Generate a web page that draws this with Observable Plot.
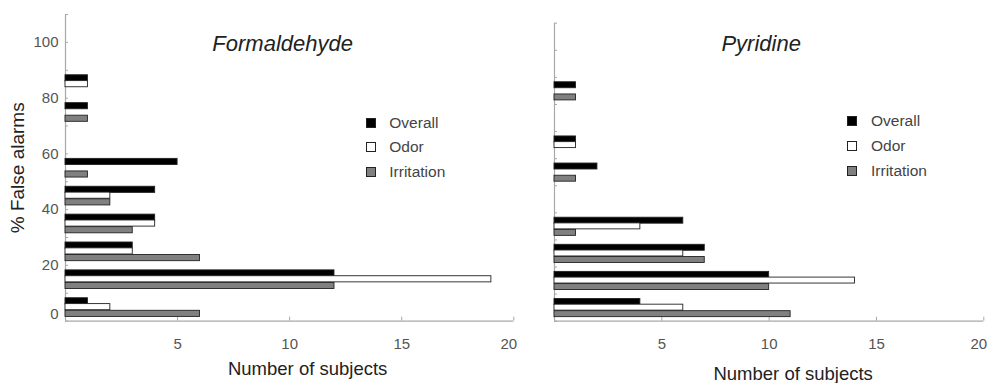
<!DOCTYPE html>
<html><head><meta charset="utf-8">
<script src="https://cdn.jsdelivr.net/npm/d3@7"></script>
<script src="https://cdn.jsdelivr.net/npm/@observablehq/plot@0.6"></script>
<style>
body{margin:0;background:#fff;font-family:"Liberation Sans",Arial,sans-serif;}
#wrap{position:relative;width:987px;height:383px;overflow:hidden;background:#fff;}
.panel{position:absolute;top:0;}
.panel svg{overflow:visible;}
.lg-sw{position:absolute;width:8px;height:8px;border:1px solid #222;}
.lg-tx{position:absolute;font-size:15.5px;line-height:20px;color:#444;white-space:nowrap;}
</style></head><body><div id="wrap"></div>
<script>
// ---- data ----
const binStarts = [0, 10, 20, 30, 40, 50, 60, 70, 80];   // % false alarms bins
const seriesNames = ["Overall", "Odor", "Irritation"];
const formOverall = [1, 12, 3, 4, 4, 5, 0, 1, 1];
const formOdor    = [2, 19, 3, 4, 2, 0, 0, 0, 1];
const formIrr     = [6, 12, 6, 3, 2, 1, 0, 1, 0];
const pyrOverall  = [4, 10, 7, 6, 0, 2, 1, 0, 1];
const pyrOdor     = [6, 14, 6, 4, 0, 0, 1, 0, 0];
const pyrIrr      = [11, 10, 7, 1, 0, 1, 0, 0, 1];
const yTickValues = [0, 10, 20, 30, 40, 50, 60, 70, 80, 90, 100, 110];
const yLabelValues = [0, 20, 40, 60, 80, 100];
const xTickValues = [5, 10, 15, 20];

// ---- styles ----
const fills = {Overall: "#000000", Odor: "#ffffff", Irritation: "#808080"};
const barCenter = {Overall: 7.1, Odor: 5.0, Irritation: 2.6}; // position within bin
const halfThick = 1.1;
const axisColor = "#a8a8a8";
const font = "Liberation Sans, Arial, sans-serif";

function makeRows(a, b, c) {
  const cols = {Overall: a, Odor: b, Irritation: c};
  return binStarts.flatMap((bin, i) => seriesNames.map(s => ({bin, series: s, value: cols[s][i]})))
    .filter(d => d.value > 0);
}

function panel(o) {
  const frameW = o.width - o.marginLeft - o.marginRight;
  const frameH = o.height - o.marginTop - o.marginBottom;
  const xMax = xTickValues[xTickValues.length - 1];
  const marks = [
    Plot.ruleX([0], {stroke: axisColor, strokeWidth: 1.2}),
    Plot.ruleY([0], {stroke: axisColor, strokeWidth: 1.2}),
    Plot.tickY(yTickValues, {y: d => d, stroke: axisColor, insetRight: frameW - 3}),
    Plot.tickX(xTickValues, {x: d => d, stroke: axisColor, insetTop: frameH - 4}),
    Plot.axisX(xTickValues.filter(d => d < xMax), {tickSize: 0, tickPadding: 17, fontSize: 15, fill: "#555", label: null}),
    Plot.axisX([xMax], {tickSize: 0, tickPadding: 17, fontSize: 15, fill: "#555", label: null, dx: -5}),
    Plot.rect(o.rows, {
      x1: 0, x2: "value",
      y1: d => d.bin + barCenter[d.series] - halfThick,
      y2: d => d.bin + barCenter[d.series] + halfThick,
      fill: d => fills[d.series], stroke: "#222", strokeWidth: 0.9
    }),
    Plot.text([o.title], {frameAnchor: "top", dx: o.titleDx, dy: o.titleDy, fontSize: 22, fontStyle: "italic",
      fill: "#222", textAnchor: "middle", lineAnchor: "middle"}),
    Plot.text(["Number of subjects"], {frameAnchor: "bottom", dx: o.xlabDx, dy: o.xlabDy, fontSize: 18.5,
      fill: "#222", textAnchor: "middle", lineAnchor: "middle"})
  ];
  if (o.yLabels) {
    marks.push(
      Plot.axisY(yLabelValues.filter(d => d > 0), {tickSize: 0, tickPadding: 7, fontSize: 15, fill: "#555", label: null}),
      Plot.axisY([0], {tickSize: 0, tickPadding: 7, fontSize: 15, fill: "#555", label: null, dy: -7}),
      Plot.text(["% False alarms"], {frameAnchor: "left", dx: -48, rotate: -90, fontSize: 19, fill: "#222",
        textAnchor: "middle", lineAnchor: "middle"})
    );
  } else {
    marks.push(Plot.axisY([], {label: null}));
  }
  return Plot.plot({
    width: o.width, height: o.height,
    marginLeft: o.marginLeft, marginRight: o.marginRight, marginTop: o.marginTop, marginBottom: o.marginBottom,
    x: {domain: [0, 20]},
    y: {domain: [0, 110]},
    color: {type: "identity"},
    style: {fontFamily: font, background: "transparent", overflow: "visible"},
    marks
  });
}

const wrap = document.getElementById("wrap");
function place(el, left) {
  const d = document.createElement("div");
  d.className = "panel"; d.style.left = left + "px";
  d.appendChild(el); wrap.appendChild(d);
}
place(panel({
  width: 520, height: 383, marginLeft: 65, marginRight: 6.7, marginTop: 14, marginBottom: 62.4,
  rows: makeRows(formOverall, formOdor, formIrr), title: "Formaldehyde",
  titleDx: -7, titleDy: 29, xlabDx: 18, xlabDy: 47.5, yLabels: true
}), 0);
place(panel({
  width: 467, height: 383, marginLeft: 34, marginRight: 3.7, marginTop: 22.7, marginBottom: 62.3,
  rows: makeRows(pyrOverall, pyrOdor, pyrIrr), title: "Pyridine",
  titleDx: -8, titleDy: 20.5, xlabDx: 24, xlabDy: 52.5, yLabels: false
}), 520);

// legends (HTML)
function legend(sx, tx, ys) {
  seriesNames.forEach((s, i) => {
    const sw = document.createElement("div");
    sw.className = "lg-sw";
    sw.style.left = (sx - 5) + "px"; sw.style.top = (ys[i] - 5) + "px";
    sw.style.background = fills[s];
    wrap.appendChild(sw);
    const t = document.createElement("div");
    t.className = "lg-tx"; t.textContent = s;
    t.style.left = tx + "px"; t.style.top = (ys[i] - 10) + "px";
    wrap.appendChild(t);
  });
}
legend(370.7, 389.3, [122.7, 147.3, 172.3]);
legend(852.3, 871, [121, 146, 171]);
</script></body></html>
